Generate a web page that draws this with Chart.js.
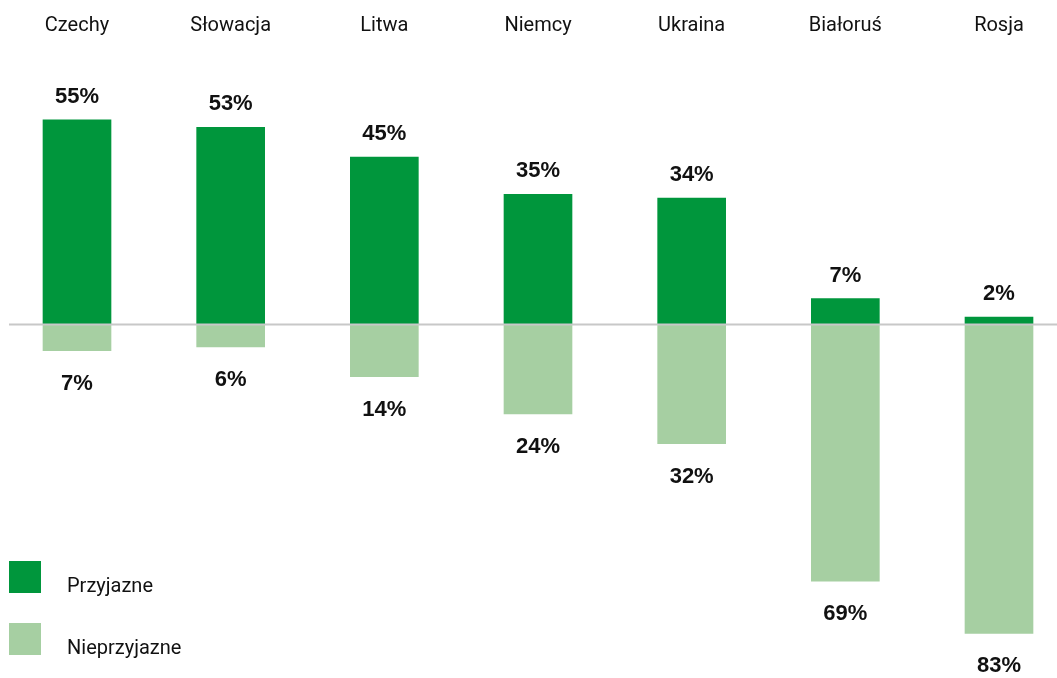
<!DOCTYPE html>
<html lang="pl">
<head>
<meta charset="utf-8">
<script src="https://cdn.jsdelivr.net/npm/chart.js@4"></script>
<style>
  html, body { margin: 0; padding: 0; background: #fff; }
  #wrap { position: relative; width: 1057px; height: 678px; }
  #legenda { position: absolute; left: 9px; top: 561px; font: 20px "Liberation Sans Narrow", "Roboto", sans-serif; color: #111; }
  .poz { display: flex; align-items: center; height: 32px; margin-bottom: 30px; }
  .poz span { position: relative; top: 8px; }
  .kw { width: 32px; height: 32px; margin-right: 26px; }
</style>
</head>
<body>
<div id="wrap">
  <canvas id="wykres" width="1057" height="678"></canvas>
  <div id="legenda"></div>
</div>
<script>
const kraje = ['Czechy', 'Słowacja', 'Litwa', 'Niemcy', 'Ukraina', 'Białoruś', 'Rosja'];
const przyjazne = [55, 53, 45, 35, 34, 7, 2];
const nieprzyjazne = [7, 6, 14, 24, 32, 69, 83];

const ciemny = '#00963c';
const jasny = '#a6cfa2';

// linia zera przez całą szerokość + podpisy wartości
const etykiety = {
    id: 'etykiety',
    afterDatasetsDraw(chart) {
        const ctx = chart.ctx;
        const y0 = chart.scales.y.getPixelForValue(0);
        ctx.save();
        ctx.strokeStyle = '#c8c8c8';
        ctx.lineWidth = 2;
        ctx.beginPath();
        ctx.moveTo(9, y0);
        ctx.lineTo(chart.width, y0);
        ctx.stroke();

        ctx.font = 'bold 22px "Liberation Sans", Arial, sans-serif';
        ctx.fillStyle = '#111';
        ctx.textAlign = 'center';
        ctx.textBaseline = 'middle';
        chart.data.datasets.forEach((ds, i) => {
            chart.getDatasetMeta(i).data.forEach((bar, j) => {
                const v = Math.abs(ds.data[j]);
                const y = ds.data[j] >= 0 ? bar.y - 23 : bar.y + 33;
                ctx.fillText(v + '%', bar.x, y);
            });
        });
        ctx.restore();
    }
};

new Chart(document.getElementById('wykres'), {
    type: 'bar',
    data: {
        labels: kraje,
        datasets: [
            { label: 'Przyjazne', data: przyjazne, backgroundColor: ciemny, barThickness: 68, clip: false },
            { label: 'Nieprzyjazne', data: nieprzyjazne.map(v => -v), backgroundColor: jasny, barThickness: 68, clip: false }
        ]
    },
    options: {
        responsive: false,
        animation: false,
        layout: { padding: { left: 77, right: 58, top: 6, bottom: 0 } },
        plugins: { legend: { display: false }, tooltip: { enabled: false } },
        scales: {
            x: {
                position: 'top',
                stacked: true,
                offset: false,
                border: { display: false },
                grid: { display: false },
                ticks: {
                    color: '#111',
                    padding: 8,
                    font: { family: '"Liberation Sans Narrow", Roboto, sans-serif', size: 20 }
                }
            },
            y: {
                stacked: true,
                min: -95,
                max: 72.7,
                display: false
            }
        }
    },
    plugins: [etykiety]
});

const leg = document.getElementById('legenda');
[['Przyjazne', ciemny], ['Nieprzyjazne', jasny]].forEach(([t, k]) => {
    leg.insertAdjacentHTML('beforeend', `<div class="poz"><div class="kw" style="background:${k}"></div><span>${t}</span></div>`);
});
</script>
</body>
</html>
